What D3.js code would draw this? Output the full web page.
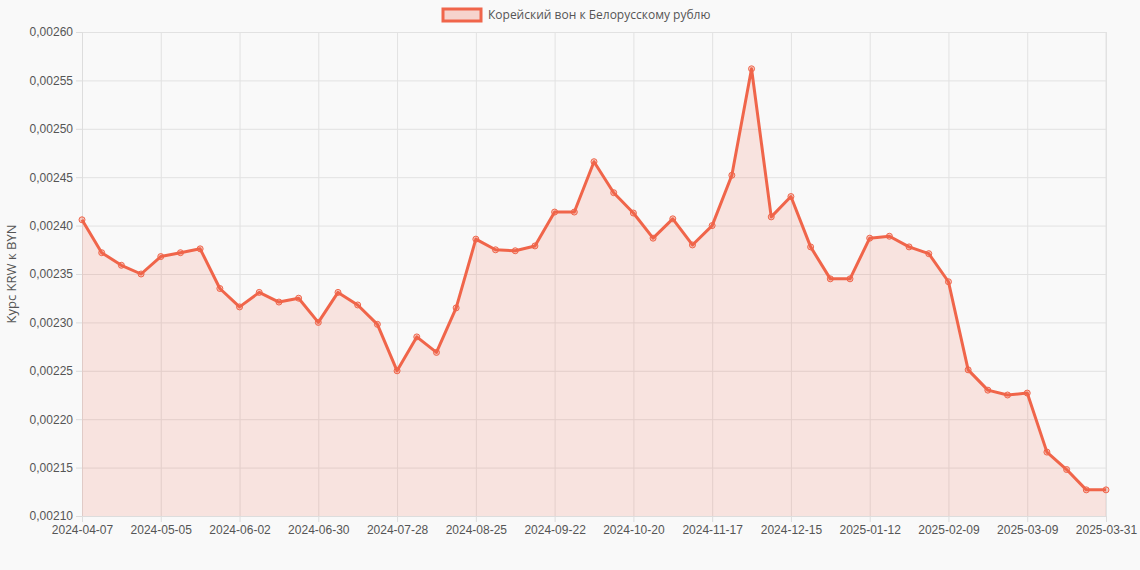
<!DOCTYPE html>
<html>
<head>
<meta charset="utf-8">
<script src="https://cdn.jsdelivr.net/npm/d3@7"></script>
<style>
body { margin:0; background:#f9f9f9; font-family: "Open Sans", "DejaVu Sans", sans-serif; }
.axis text { font-size:12px; fill:#555; }
.grid line { stroke:#e2e2e2; }
.grid path { display:none; }
</style>
</head>
<body>
<script>
// недели (категории)
var dates = ["2024-04-07","2024-04-14","2024-04-21","2024-04-28","2024-05-05","2024-05-12","2024-05-19","2024-05-26",
  "2024-06-02","2024-06-09","2024-06-16","2024-06-23","2024-06-30","2024-07-07","2024-07-14","2024-07-21",
  "2024-07-28","2024-08-04","2024-08-11","2024-08-18","2024-08-25","2024-09-01","2024-09-08","2024-09-15",
  "2024-09-22","2024-09-29","2024-10-06","2024-10-13","2024-10-20","2024-10-27","2024-11-03","2024-11-10",
  "2024-11-17","2024-11-24","2024-12-01","2024-12-08","2024-12-15","2024-12-22","2024-12-29","2025-01-05",
  "2025-01-12","2025-01-19","2025-01-26","2025-02-02","2025-02-09","2025-02-16","2025-02-23","2025-03-02",
  "2025-03-09","2025-03-16","2025-03-23","2025-03-30","2025-03-31"];
var rates = [0.002406,0.002372,0.002359,0.002350,0.002368,0.002372,0.002376,0.002335,
  0.002316,0.002331,0.002321,0.002325,0.002300,0.002331,0.002318,0.002298,
  0.002250,0.002285,0.002269,0.002315,0.002386,0.002375,0.002374,0.002379,
  0.002414,0.002414,0.002466,0.002434,0.002413,0.002387,0.002407,0.002380,
  0.002400,0.002452,0.002562,0.002409,0.002430,0.002378,0.002345,0.002345,
  0.002387,0.002389,0.002378,0.002371,0.002342,0.002251,0.002230,0.002225,
  0.002227,0.002166,0.002148,0.002127,0.002127];
var yTicks = [0.0021,0.00215,0.0022,0.00225,0.0023,0.00235,0.0024,0.00245,0.0025,0.00255,0.0026];
var seriesName = "Корейский вон к Белорусскому рублю";
var yTitle = "Курс KRW к BYN";

var W = 1140, H = 570, m = {top:32, right:34, bottom:54, left:82};
var color = "#f0654a";

var svg = d3.select("body").append("svg").attr("width", W).attr("height", H);
var g = svg.append("g").attr("transform", "translate(" + m.left + "," + m.top + ")");
var iw = W - m.left - m.right, ih = H - m.top - m.bottom;

var x = d3.scalePoint().domain(dates).range([0, iw]);
var y = d3.scaleLinear().domain([0.0021, 0.0026]).range([ih, 0]);
var fmt = function(v){ return v.toFixed(5).replace(".", ","); };
var tickDates = dates.filter(function(d,i){ return i % 4 === 0 || i === dates.length-1; });

g.append("g").attr("class","grid").attr("transform","translate(0," + ih + ")")
  .call(d3.axisBottom(x).tickValues(tickDates).tickSize(-ih).tickFormat(""));
g.append("g").attr("class","grid")
  .call(d3.axisLeft(y).tickValues(yTicks).tickSize(-iw).tickFormat(""));
g.append("line").attr("x1",iw).attr("x2",iw).attr("y1",0).attr("y2",ih).attr("stroke","#e2e2e2");

var xa = g.append("g").attr("class","axis").attr("transform","translate(0," + ih + ")")
  .call(d3.axisBottom(x).tickValues(tickDates).tickSize(6));
var ya = g.append("g").attr("class","axis")
  .call(d3.axisLeft(y).tickValues(yTicks).tickSize(6).tickFormat(fmt));
[xa, ya].forEach(function(a){ a.select(".domain").attr("stroke","#ddd"); a.selectAll(".tick line").attr("stroke","#ddd"); });

g.append("path").datum(rates)
  .attr("fill", "rgba(240,101,74,0.15)")
  .attr("d", d3.area().x(function(d,i){ return x(dates[i]); }).y0(ih).y1(function(d){ return y(d); }));
g.append("path").datum(rates)
  .attr("fill","none").attr("stroke",color).attr("stroke-width",3).attr("stroke-linejoin","round")
  .attr("d", d3.line().x(function(d,i){ return x(dates[i]); }).y(function(d){ return y(d); }));
g.selectAll(".pt").data(rates).enter().append("circle")
  .attr("cx", function(d,i){ return x(dates[i]); }).attr("cy", function(d){ return y(d); })
  .attr("r", 3).attr("fill","rgba(240,101,74,0.3)").attr("stroke",color).attr("stroke-width",1);

svg.append("text").attr("transform","translate(16," + (m.top + ih/2) + ") rotate(-90)")
  .attr("text-anchor","middle").attr("font-size",13).attr("fill","#555").text(yTitle);

// легенда
var lg = svg.append("g").attr("transform","translate(442,8)");
lg.append("rect").attr("width",38).attr("height",12).attr("x",1).attr("y",1)
  .attr("fill","rgba(240,101,74,0.25)").attr("stroke",color).attr("stroke-width",3);
lg.append("text").attr("x",46).attr("y",11).attr("font-size",12).attr("fill","#555").text(seriesName);
</script>
</body>
</html>
